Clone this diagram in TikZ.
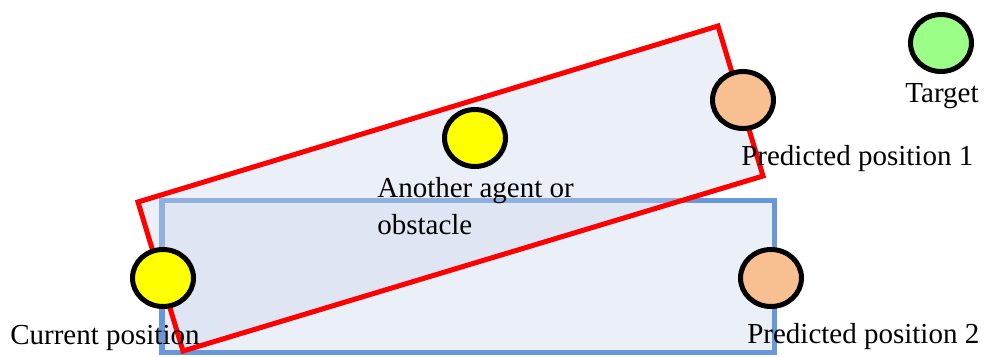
\documentclass[tikz,border=0pt]{standalone}
\usepackage{fontspec}
\setmainfont{Liberation Serif}
\usepackage{tikz}
\usetikzlibrary{shapes.geometric, positioning, calc}
\definecolor{myred}{RGB}{255,0,0}
\definecolor{myblue}{RGB}{104,152,216}
\definecolor{myfill}{RGB}{205,215,237}
\definecolor{myyellow}{RGB}{255,255,0}
\definecolor{mygreen}{RGB}{155,255,135}
\definecolor{myorange}{RGB}{248,192,144}
\tikzset{
  agent/.style={ellipse, draw=black, line width=2.85pt, inner sep=0pt,
    minimum width=1.22cm, minimum height=1.14cm},
  label/.style={inner sep=0pt, font=\fontsize{16.5}{21}\selectfont},
  zone/.style={fill=myfill, fill opacity=0.4, line width=2.85pt, line join=miter}
}
\begin{document}
\begin{tikzpicture}[x=0.02cm, y=-0.02cm]
  \useasboundingbox (0,0) rectangle (985,356);

  % Corridor for straight motion
  \draw[zone, draw=myblue] (162,200) rectangle (774,352);

  % Corridor for rotated motion
  \coordinate (r1) at (138,202);
  \coordinate (r2) at (718,26);
  \coordinate (r3) at (763,176);
  \coordinate (r4) at (183,351);
  \draw[zone, draw=myred] (r1) -- (r2) -- (r3) -- (r4) -- cycle;

  % Agents
  \node[agent, fill=myyellow] (cur) at (163,278) {};
  \node[agent, fill=myyellow] (obs) at (475,138) {};
  \node[agent, fill=myorange] (pred1) at (743,100) {};
  \node[agent, fill=myorange] (pred2) at (771,278) {};
  \node[agent, fill=mygreen] (tgt) at (941,43) {};

  % Labels
  \node[label, anchor=base] (tgtlbl) at (942,102) {Target};
  \node[label, anchor=base west] (pred1lbl) at (741,165) {Predicted position 1};
  \node[label, anchor=base west] (pred2lbl) at (747,343) {Predicted position 2};
  \node[label, anchor=base west] (curlbl) at (10,344) {Current position};
  \node[label, anchor=north west, align=left] (obslbl) at (377,177) {Another agent or\\obstacle};
\end{tikzpicture}
\end{document}
